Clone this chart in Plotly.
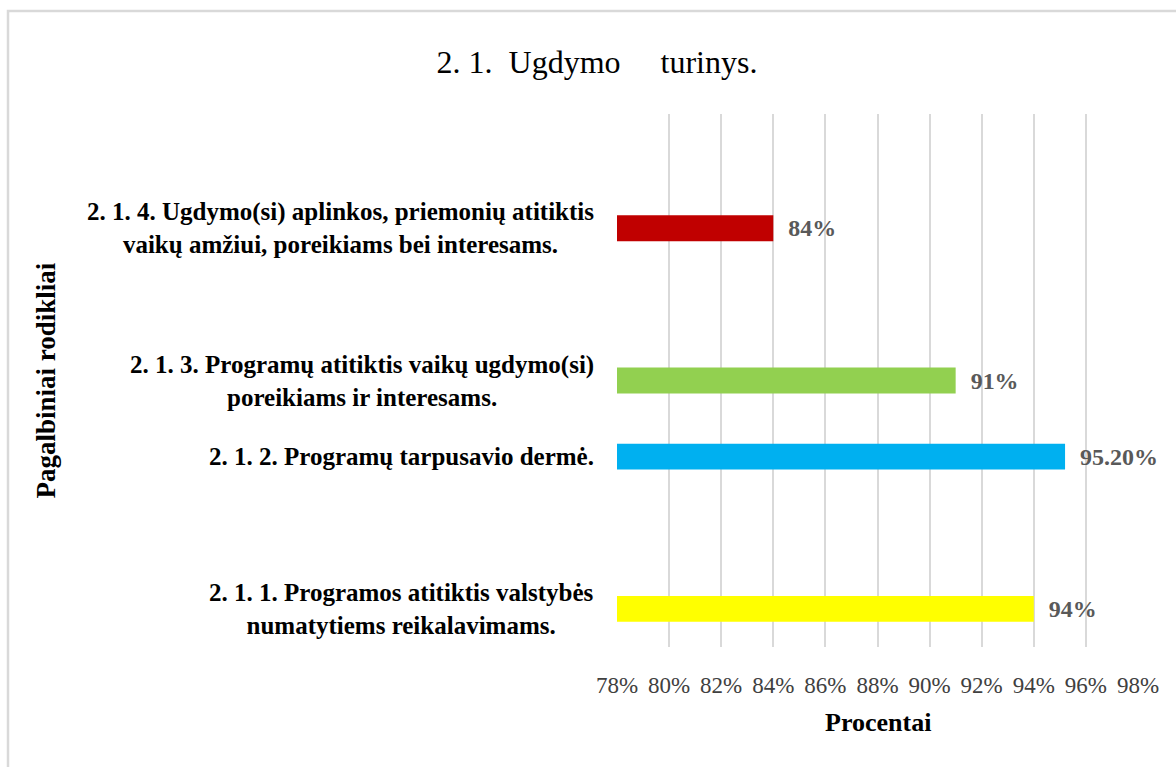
import plotly.graph_objects as go

# Data
slots = ["2.1.1", " ", "2.1.2", "2.1.3", "  ", "2.1.4", "   "]
categories = ["2.1.1", "2.1.2", "2.1.3", "2.1.4"]
labels = [
    "2. 1. 1. Programos atitiktis valstybės<br>numatytiems reikalavimams.",
    "2. 1. 2. Programų tarpusavio dermė.",
    "2. 1. 3. Programų atitiktis vaikų ugdymo(si)<br>poreikiams ir interesams.",
    "2. 1. 4. Ugdymo(si) aplinkos, priemonių atitiktis<br>vaikų amžiui, poreikiams bei interesams.",
]
values = [94, 95.2, 91, 84]
value_text = ["94%", "95.20%", "91%", "84%"]
colors = ["#FFFF00", "#00B0F0", "#92D050", "#C00000"]
x_ticks = [78, 80, 82, 84, 86, 88, 90, 92, 94, 96, 98]
x_tick_text = ["78%", "80%", "82%", "84%", "86%", "88%", "90%", "92%", "94%", "96%", "98%"]

FONT = "Liberation Serif"
W, H = 1176, 767
L, R, T, B = 617, 38, 114, 120
pw, ph = W - L - R, H - T - B

fig = go.Figure(go.Bar(
    y=categories, x=[v - 78 for v in values], base=78, orientation="h",
    marker=dict(color=colors, line=dict(width=0)),
    width=0.34,
    text=value_text, textposition="outside", cliponaxis=False,
    textfont=dict(family=FONT, size=25, color="#595959"),
    texttemplate="  <b>%{text}</b>",
    hoverinfo="skip",
))

annotations = []
for c, lab in zip(categories, labels):
    annotations.append(dict(
        x=0, xref="paper", y=c, yref="y", text="<b>" + lab + "</b>",
        xanchor="right", yanchor="middle", align="center", xshift=-21, showarrow=False,
        font=dict(family=FONT, size=25, color="#000000"),
    ))
annotations.append(dict(
    x=(45 - L) / pw, xref="paper", y=0.5, yref="paper", text="<b>Pagalbiniai rodikliai</b>",
    textangle=-90, showarrow=False, xanchor="center", yanchor="middle",
    font=dict(family=FONT, size=27, color="#000000"),
))
annotations.append(dict(
    x=0.5, xref="paper", y=-(722 - (T + ph)) / ph, yref="paper", text="<b>Procentai</b>",
    showarrow=False, xanchor="center", yanchor="middle",
    font=dict(family=FONT, size=26, color="#000000"),
))

fig.update_layout(
    width=W, height=H, autosize=False,
    margin=dict(l=L, r=R, t=T, b=B, pad=0),
    paper_bgcolor="white", plot_bgcolor="white",
    showlegend=False,
    title=dict(text="2. 1.  Ugdymo     turinys.", x=597 / W, xref="container", xanchor="center",
               y=1 - 62 / H, yref="container", yanchor="middle",
               font=dict(family=FONT, size=32, color="#000000")),
    xaxis=dict(range=[78, 98], tickvals=x_ticks, ticktext=x_tick_text, showgrid=True,
               gridcolor="#D9D9D9", gridwidth=2, zeroline=False, showline=False,
               ticks="", ticklabelstandoff=22,
               tickfont=dict(family=FONT, size=23, color="#404040")),
    yaxis=dict(type="category", categoryorder="array", categoryarray=slots,
               range=[-0.5, 6.5], showticklabels=False, showgrid=False, zeroline=False,
               showline=False, ticks=""),
    annotations=annotations,
    shapes=[dict(type="rect", xref="paper", yref="paper",
                 x0=(8 - L) / pw, x1=(W + 20 - L) / pw,
                 y0=-(H + 20 - T - ph) / ph, y1=(T + ph - 11) / ph,
                 line=dict(color="#D9D9D9", width=2.5), fillcolor="rgba(0,0,0,0)", layer="below")],
)

fig.write_html("out.html", config={"displayModeBar": False},
               post_script="document.body.style.margin='0';document.body.style.overflow='hidden';")
